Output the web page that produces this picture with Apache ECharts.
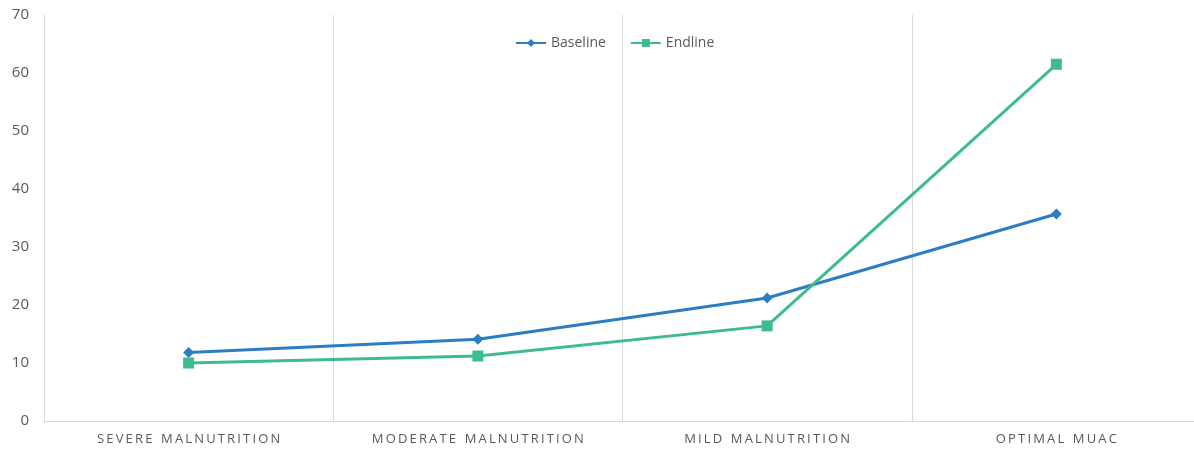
<!DOCTYPE html>
<html>
<head>
<meta charset="utf-8">
<script src="https://cdn.jsdelivr.net/npm/echarts@6/dist/echarts.min.js"></script>
<style>
  html, body { margin: 0; padding: 0; background: #fff; }
  #chart { width: 1194px; height: 451px; }
</style>
</head>
<body>
<div id="chart"></div>
<script>
// MUAC nutrition status, baseline vs endline (%)
const categories = ['SEVERE MALNUTRITION', 'MODERATE MALNUTRITION', 'MILD MALNUTRITION', 'OPTIMAL MUAC'];
const baseline = [11.8, 14.1, 21.2, 35.7];
const endline = [10.0, 11.2, 16.4, 61.5];
const yTicks = [0, 10, 20, 30, 40, 50, 60, 70];

const fontFamily = '"Open Sans", "DejaVu Sans", sans-serif';
const gridColor = '#d9d9d9';
const textColor = '#595959';

// spaced-out caps for the category labels
function tracked(s) {
  return s.split(' ').map(w => w.split('').join('\u2009')).join('\u2002\u2009');
}

const chart = echarts.init(document.getElementById('chart'));
chart.setOption({
  animation: false,
  textStyle: { fontFamily: fontFamily },
  legend: {
    top: 31,
    left: 510,
    itemWidth: 30,
    itemHeight: 10,
    itemGap: 24,
    textStyle: { fontSize: 14, color: textColor, fontFamily: fontFamily },
    data: ['Baseline', 'Endline']
  },
  grid: { left: 44, width: 1157, top: 15, height: 406, outerBoundsMode: 'none' },
  xAxis: {
    type: 'category',
    data: categories,
    boundaryGap: true,
    axisLine: { show: true, lineStyle: { color: gridColor, width: 1 } },
    axisTick: { show: false },
    splitLine: { show: true, lineStyle: { color: gridColor, width: 1 } },
    axisLabel: {
      color: textColor, fontSize: 13, margin: 12, fontFamily: fontFamily,
      formatter: tracked
    }
  },
  yAxis: {
    type: 'value',
    min: yTicks[0],
    max: yTicks[yTicks.length - 1],
    interval: 10,
    axisLine: { show: true, lineStyle: { color: gridColor, width: 1 } },
    axisTick: { show: false },
    splitLine: { show: false },
    axisLabel: { color: textColor, fontSize: 15, margin: 15, fontFamily: fontFamily }
  },
  series: [
    {
      name: 'Baseline',
      type: 'line',
      data: baseline,
      symbol: 'diamond',
      symbolSize: 11,
      lineStyle: { color: '#2b7dc6', width: 3 },
      itemStyle: { color: '#2b7dc6' }
    },
    {
      name: 'Endline',
      type: 'line',
      data: endline,
      symbol: 'rect',
      symbolSize: 11,
      lineStyle: { color: '#3ebb90', width: 3 },
      itemStyle: { color: '#3ebb90' }
    }
  ]
});
</script>
</body>
</html>
